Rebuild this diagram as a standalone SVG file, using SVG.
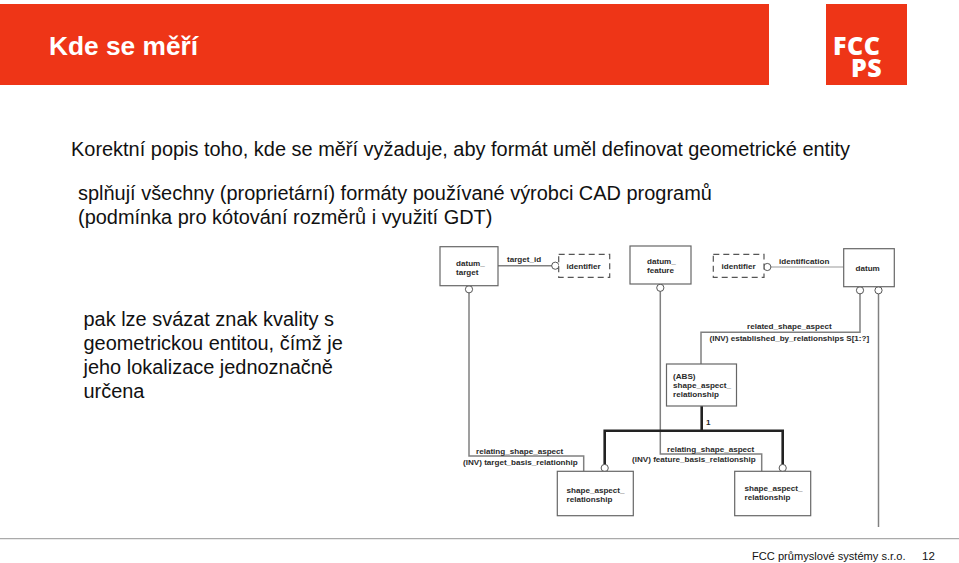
<svg xmlns="http://www.w3.org/2000/svg" width="959" height="563" viewBox="0 0 959 563">
<style>
text{font-family:"Liberation Sans",Arial,sans-serif;fill:#111}
.b{font-size:19.96px}
.l{font-size:19.95px}
.d{font-size:8.1px;font-weight:bold;fill:#2a2a2a}
.box{fill:#fff;stroke:#666;stroke-width:1.2}
.dash{fill:#fff;stroke:#555;stroke-width:1.2;stroke-dasharray:6 4}
.c{fill:none;stroke:#808080;stroke-width:1.5}
.t{fill:none;stroke:#222;stroke-width:2.6}
.o{fill:#fff;stroke:#444;stroke-width:.9}
.w{font-family:"Open Sans",sans-serif;font-size:25px;font-weight:800;fill:#fff}
</style>
<rect width="959" height="563" fill="#fff"/>
<g id="header"><rect x="0" y="4" width="769" height="81" fill="#EE3517"/>
<text x="49" y="55" font-size="26.3" font-weight="bold" style="fill:#fff">Kde se měří</text></g>
<g id="logo"><rect x="826" y="4" width="81" height="81" fill="#EE3517"/>
<text class="w"><tspan x="833" y="55" letter-spacing=".5">FCC</tspan><tspan x="851" y="77" letter-spacing=".5">PS</tspan></text></g>
<g id="body">
<text class="b" x="71" y="156">Korektní popis toho, kde se měří vyžaduje, aby formát uměl definovat geometrické entity</text>
<text class="b" x="78" y="200">splňují všechny (proprietární) formáty používané výrobci CAD programů</text>
<text class="b" x="78" y="224">(podmínka pro kótování rozměrů i využití GDT)</text>
<text class="l" x="83.5" y="325.5">pak lze svázat znak kvality s</text>
<text class="l" x="83.5" y="349.5">geometrickou entitou, čímž je</text>
<text class="l" x="83.5" y="373.5">jeho lokalizace jednoznačně</text>
<text class="l" x="83.5" y="397.5">určena</text>
</g>
<g id="connectors">
<path class="c" d="M498 265.7H552"/>
<path class="c" d="M771 267H843.7" style="stroke:#bbb"/>
<path class="c" d="M469 292V456H583.7V471.3"/>
<path class="c" d="M660.3 291V454H761.7V471.3"/>
<path class="c" d="M860 293V332.3H701V364"/>
<path class="c" d="M878.5 293V527"/>
<path class="t" d="M701.7 406V430.7M604.7 464.5V430.7H782.7V464.5"/>
<circle class="o" cx="555.3" cy="265.7" r="3.6"/>
<circle class="o" cx="767.3" cy="267" r="3.6"/>
<circle class="o" cx="469" cy="289.3" r="3.6"/>
<circle class="o" cx="660.3" cy="287.8" r="3.6"/>
<circle class="o" cx="860" cy="290.3" r="3.6"/>
<circle class="o" cx="878.5" cy="290.3" r="3.6"/>
<circle class="o" cx="604.7" cy="468" r="3.6"/>
<circle class="o" cx="782.7" cy="468" r="3.6"/>
<text class="d" x="507" y="262">target_id</text>
<text class="d" x="779" y="264">identification</text>
<text class="d" x="747" y="329">related_shape_aspect</text>
<text class="d" x="709.5" y="341">(INV) established_by_relationships S[1:?]</text>
<text class="d" x="706" y="425">1</text>
<text class="d" x="476" y="454">relating_shape_aspect</text>
<text class="d" x="463" y="465">(INV) target_basis_relationhip</text>
<text class="d" x="667" y="452">relating_shape_aspect</text>
<text class="d" x="632" y="462">(INV) feature_basis_relationship</text>
</g>
<g id="datum_target"><rect class="box" x="440" y="246.7" width="58" height="39"/><text class="d" x="456" y="266">datum_</text><text class="d" x="456" y="275">target</text></g>
<g id="identifier1"><rect class="dash" x="558.7" y="254.3" width="51" height="23"/><text class="d" x="566.5" y="269">identifier</text></g>
<g id="datum_feature"><rect class="box" x="630" y="246" width="61" height="38"/><text class="d" x="647" y="264">datum_</text><text class="d" x="647" y="273">feature</text></g>
<g id="identifier2"><rect class="dash" x="713.3" y="254.3" width="50.7" height="23"/><text class="d" x="721.5" y="269">identifier</text></g>
<g id="datum"><rect class="box" x="843.7" y="248.7" width="50.6" height="38"/><text class="d" x="855.5" y="271">datum</text></g>
<g id="abs_relationship"><rect class="box" x="666.5" y="364" width="70" height="42"/><text class="d" x="673" y="379">(ABS)</text><text class="d" x="673" y="388">shape_aspect_</text><text class="d" x="673" y="397">relationship</text></g>
<g id="relationship_left"><rect class="box" x="557.3" y="471.3" width="76" height="44.4"/><text class="d" x="566.5" y="492.5">shape_aspect_</text><text class="d" x="566.5" y="501.5">relationship</text></g>
<g id="relationship_right"><rect class="box" x="734.7" y="471.3" width="76" height="44.4"/><text class="d" x="744.5" y="491">shape_aspect_</text><text class="d" x="744.5" y="500">relationship</text></g>
<g id="footer"><path d="M0 538.7H959" stroke="#aaa" stroke-width="1.2"/>
<text x="752" y="560" font-size="11.1">FCC průmyslové systémy s.r.o.</text>
<text x="922" y="560" font-size="11.5">12</text></g>
</svg>
